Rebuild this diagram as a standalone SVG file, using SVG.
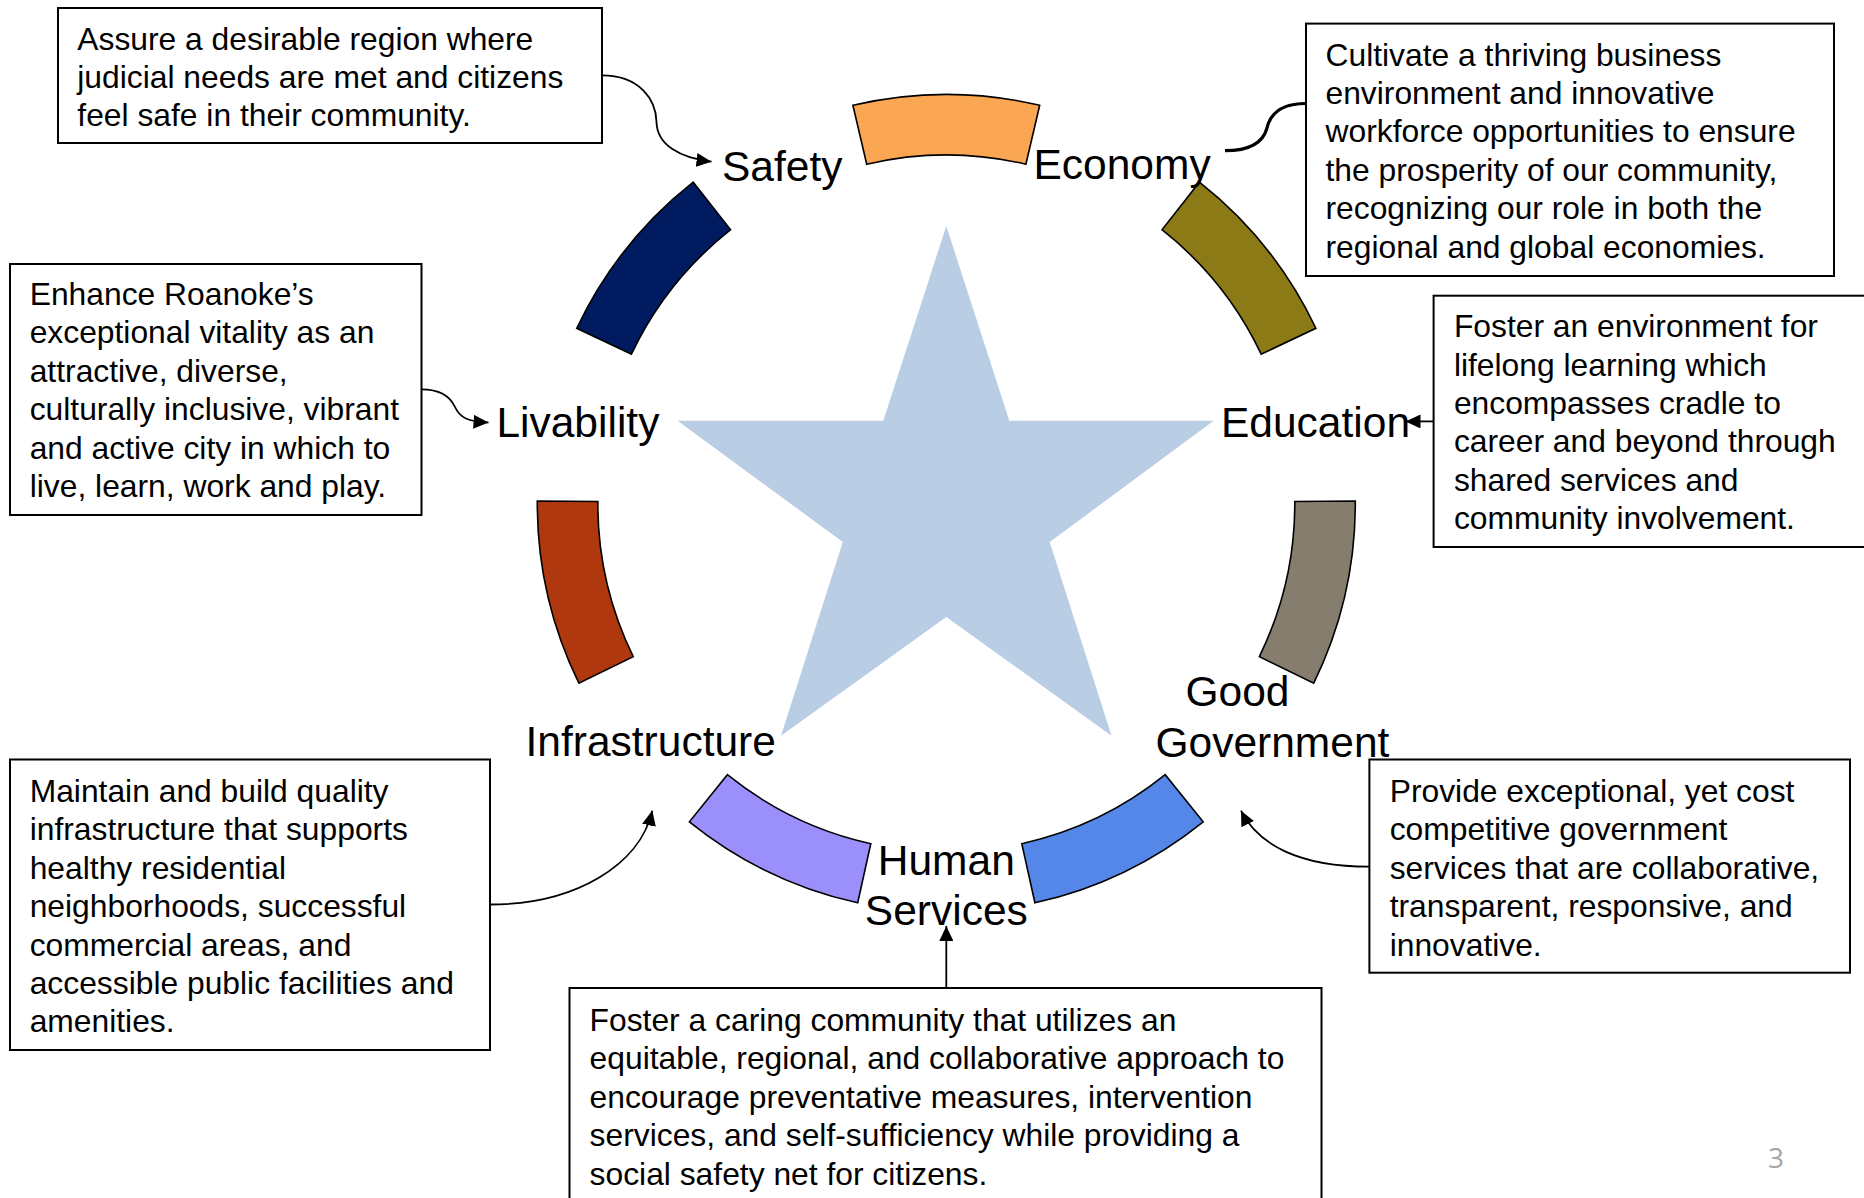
<svg xmlns="http://www.w3.org/2000/svg" width="1864" height="1198" viewBox="0 0 1864 1198">
<style>
.box{fill:#fff;stroke:#000;stroke-width:2}
.bt{font-family:"Liberation Sans",Arial,sans-serif;font-size:31.8px;fill:#000}
.lb{font-family:"Liberation Sans",Arial,sans-serif;font-size:42.5px;fill:#000}
.seg{stroke:#000;stroke-width:1.6;stroke-linejoin:miter}
.con{fill:none;stroke:#000;stroke-width:1.8}
</style>
<defs>
<marker id="ah" markerUnits="userSpaceOnUse" viewBox="0 0 15 14" refX="15" refY="7" markerWidth="15" markerHeight="14" orient="auto">
<path d="M0,0 L15,7 L0,14 z" fill="#000"/>
</marker>
<path id="segshape" d="M852.9,105.3 A409,409 0 0 1 1039.7,105.3 L1025.88,164.21 A348.5,348.5 0 0 0 866.72,164.21 Z"/>
</defs>
<rect width="1864" height="1198" fill="#fff"/>

<g id="star">
<polygon points="946.3,225.9 1009.3,420.8 1213.7,420.8 1049.7,542 1111.5,735.8 946.3,617 781,735.8 842.8,542 677.6,420.8 883.3,420.8" fill="#B9CDE5"/>
</g>

<g id="ring">
<use href="#segshape" class="seg" fill="#FAA652"/>
<use href="#segshape" class="seg" fill="#8C7A17" transform="rotate(51.43 946.3 503.5)"/>
<use href="#segshape" class="seg" fill="#857E6E" transform="rotate(102.86 946.3 503.5)"/>
<use href="#segshape" class="seg" fill="#5487E8" transform="rotate(154.29 946.3 503.5)"/>
<use href="#segshape" class="seg" fill="#9A8FFB" transform="rotate(205.71 946.3 503.5)"/>
<use href="#segshape" class="seg" fill="#B0380F" transform="rotate(257.14 946.3 503.5)"/>
<use href="#segshape" class="seg" fill="#001B5F" transform="rotate(308.57 946.3 503.5)"/>
</g>

<g id="connectors">
<path class="con" d="M602,75.3 C640,75.3 656,100 656.5,122 C657,145 680,158 711.5,161.7" marker-end="url(#ah)"/>
<path class="con" d="M421.5,389.3 C440,389.3 450,396 455,407 C460,418 468,421.5 488.5,422.5" marker-end="url(#ah)"/>
<path fill="none" stroke="#000" stroke-width="3.2" d="M1306,103.5 C1280,103.5 1270,115 1267,128 C1263,143 1248,150.7 1225,150.7"/>
<path class="con" d="M1433.6,421.4 L1405.5,421.4" marker-end="url(#ah)"/>
<path class="con" d="M490,904.5 C575,904.5 640,865 652.3,810.6" marker-end="url(#ah)"/>
<path class="con" d="M946.3,988 L946.3,926" marker-end="url(#ah)"/>
<path class="con" d="M1369.4,866.7 C1300,866.7 1258,845 1241,810.7" marker-end="url(#ah)"/>
</g>

<g id="label-safety"><text class="lb" x="722" y="180.5">Safety</text></g>
<g id="label-economy"><text class="lb" x="1033.5" y="178.5">Economy</text></g>
<g id="label-livability"><text class="lb" x="496.4" y="437">Livability</text></g>
<g id="label-education"><text class="lb" x="1221" y="436.5">Education</text></g>
<g id="label-infrastructure"><text class="lb" x="525.5" y="756">Infrastructure</text></g>
<g id="label-goodgov"><text class="lb"><tspan x="1185.5" y="705.5">Good</tspan><tspan x="1155.5" y="756.5">Government</tspan></text></g>
<g id="label-human"><text class="lb" text-anchor="middle"><tspan x="946.3" y="875">Human</tspan><tspan x="946.3" y="925">Services</tspan></text></g>

<g id="box-safety">
<rect class="box" x="58" y="8" width="544" height="135"/>
<text class="bt"><tspan x="77.3" y="49.5">Assure a desirable region where</tspan><tspan x="77.3" y="87.9">judicial needs are met and citizens</tspan><tspan x="77.3" y="126.3">feel safe in their community.</tspan></text>
</g>

<g id="box-livability">
<rect class="box" x="10" y="264" width="411.5" height="251"/>
<text class="bt"><tspan x="29.7" y="305">Enhance Roanoke’s</tspan><tspan x="29.7" y="343.4">exceptional vitality as an</tspan><tspan x="29.7" y="381.8">attractive, diverse,</tspan><tspan x="29.7" y="420.2">culturally inclusive, vibrant</tspan><tspan x="29.7" y="458.6">and active city in which to</tspan><tspan x="29.7" y="497">live, learn, work and play.</tspan></text>
</g>

<g id="box-economy">
<rect class="box" x="1306" y="23.6" width="528" height="252.4"/>
<text class="bt"><tspan x="1325.5" y="65.5">Cultivate a thriving business</tspan><tspan x="1325.5" y="103.9">environment and innovative</tspan><tspan x="1325.5" y="142.3">workforce opportunities to ensure</tspan><tspan x="1325.5" y="180.7">the prosperity of our community,</tspan><tspan x="1325.5" y="219.1">recognizing our role in both the</tspan><tspan x="1325.5" y="257.5">regional and global economies.</tspan></text>
</g>

<g id="box-education">
<rect class="box" x="1433.6" y="295.7" width="440" height="251.3"/>
<text class="bt"><tspan x="1453.9" y="337.2">Foster an environment for</tspan><tspan x="1453.9" y="375.6">lifelong learning which</tspan><tspan x="1453.9" y="414">encompasses cradle to</tspan><tspan x="1453.9" y="452.4">career and beyond through</tspan><tspan x="1453.9" y="490.8">shared services and</tspan><tspan x="1453.9" y="529.2">community involvement.</tspan></text>
</g>

<g id="box-infrastructure">
<rect class="box" x="10" y="759.5" width="480" height="290.5"/>
<text class="bt"><tspan x="29.7" y="802">Maintain and build quality</tspan><tspan x="29.7" y="840.4">infrastructure that supports</tspan><tspan x="29.7" y="878.8">healthy residential</tspan><tspan x="29.7" y="917.2">neighborhoods, successful</tspan><tspan x="29.7" y="955.6">commercial areas, and</tspan><tspan x="29.7" y="994">accessible public facilities and</tspan><tspan x="29.7" y="1032.4">amenities.</tspan></text>
</g>

<g id="box-human">
<rect class="box" x="569.5" y="988" width="752" height="230"/>
<text class="bt"><tspan x="589.6" y="1031">Foster a caring community that utilizes an</tspan><tspan x="589.6" y="1069.4">equitable, regional, and collaborative approach to</tspan><tspan x="589.6" y="1107.8">encourage preventative measures, intervention</tspan><tspan x="589.6" y="1146.2">services, and self-sufficiency while providing a</tspan><tspan x="589.6" y="1184.6">social safety net for citizens.</tspan></text>
</g>

<g id="box-goodgov">
<rect class="box" x="1369.4" y="759.5" width="480.6" height="213.2"/>
<text class="bt"><tspan x="1389.7" y="802">Provide exceptional, yet cost</tspan><tspan x="1389.7" y="840.4">competitive government</tspan><tspan x="1389.7" y="878.8">services that are collaborative,</tspan><tspan x="1389.7" y="917.2">transparent, responsive, and</tspan><tspan x="1389.7" y="955.6">innovative.</tspan></text>
</g>

<text x="1768" y="1168" font-family="'Open Sans','Liberation Sans',sans-serif" font-size="28" fill="#A6A6A6">3</text>
</svg>
